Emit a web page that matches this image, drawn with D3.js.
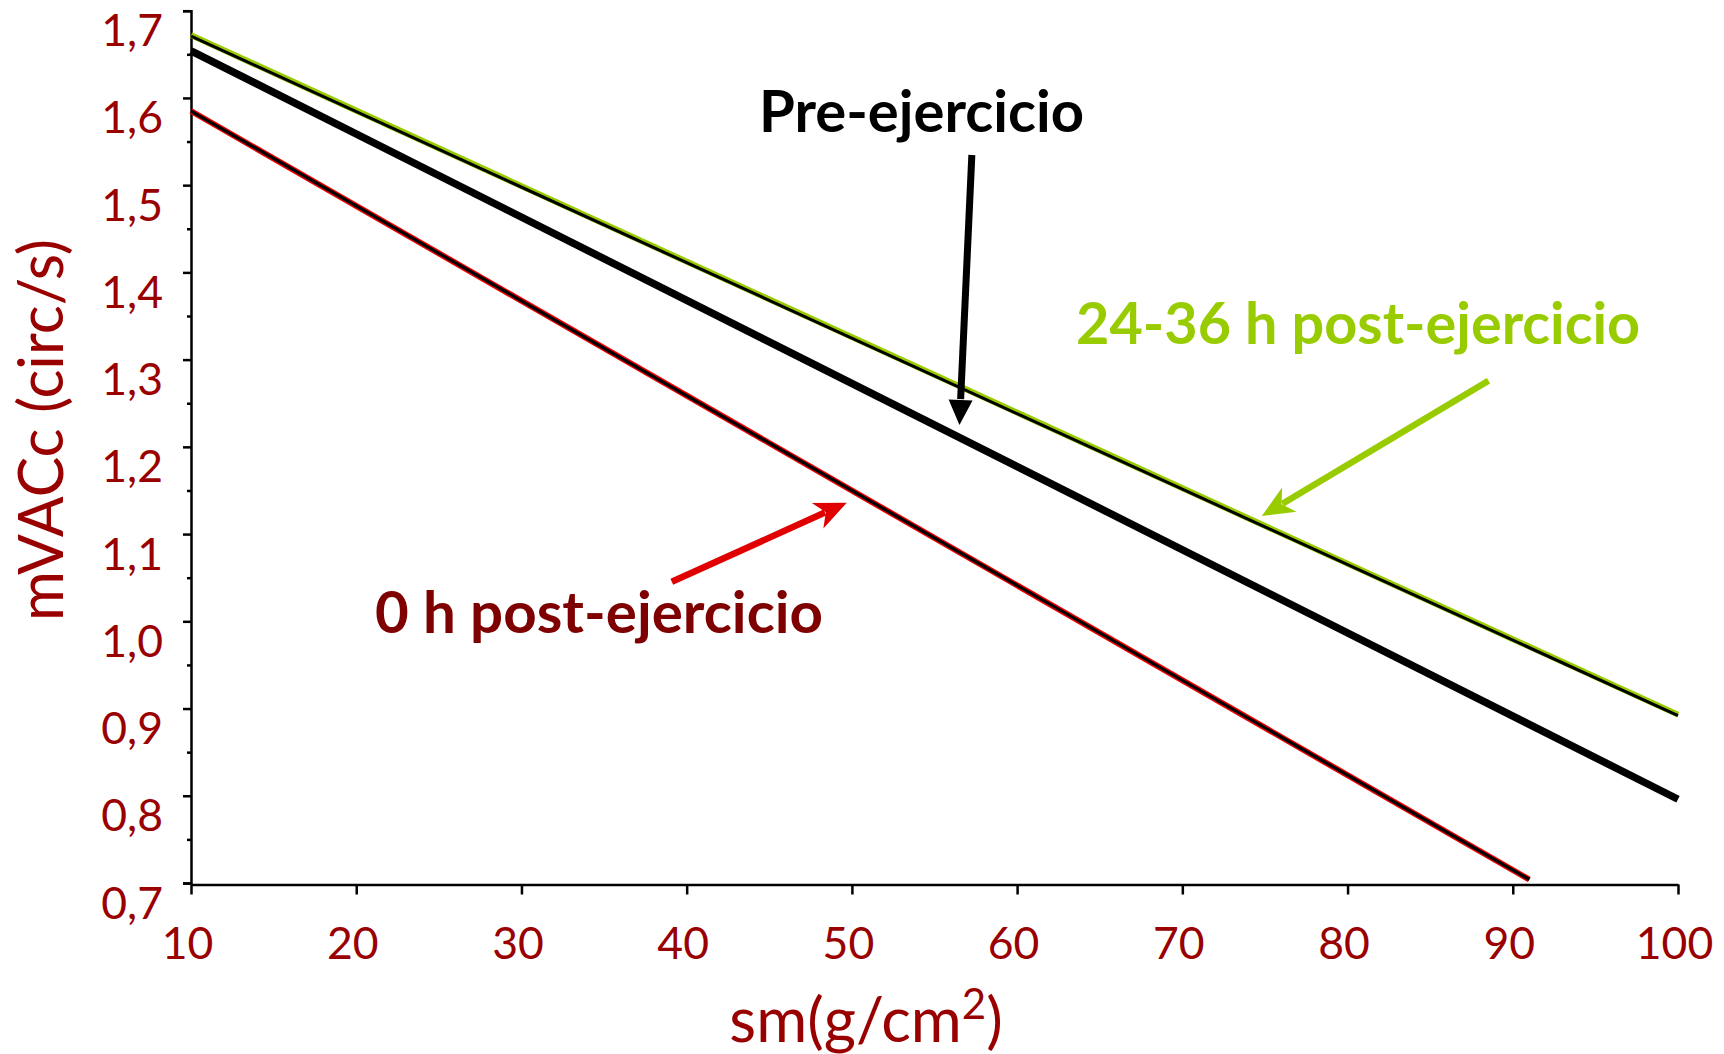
<!DOCTYPE html>
<html>
<head>
<meta charset="utf-8">
<script src="https://cdn.jsdelivr.net/npm/d3@7"></script>
<style>
  html, body { margin: 0; padding: 0; background: #ffffff; }
  svg { display: block; }
  text { font-family: Lato, "Open Sans", sans-serif; }
</style>
</head>
<body>
<svg id="chart" width="1724" height="1054"></svg>
<script>
// Regression lines of mVACc against sm at three moments
const smPre = [10, 100];
const mvaccPre = [1.654, 0.796];

const smPost24 = [10, 100];
const mvaccPost24 = [1.672, 0.893];

const smPost0 = [10, 91];
const mvaccPost0 = [1.585, 0.704];

const xTicks = [10, 20, 30, 40, 50, 60, 70, 80, 90, 100];
const yTicks = [0.7, 0.8, 0.9, 1.0, 1.1, 1.2, 1.3, 1.4, 1.5, 1.6, 1.7];
const yMinorTicks = [0.75, 0.85, 0.95, 1.05, 1.15, 1.25, 1.35, 1.45, 1.55, 1.65];

const labelPre = "Pre-ejercicio";
const labelPost24 = "24-36 h post-ejercicio";
const labelPost0 = "0 h post-ejercicio";

const svg = d3.select("#chart");
const tickColor = "#990000";

const x = d3.scaleLinear().domain([10, 100]).range([191, 1678]);
const y = d3.scaleLinear().domain([0.7, 1.7]).range([883, 10.7]);

const fmt = v => d3.format(".1f")(v).replace(".", ",");

// Y axis: major ticks with labels, minor ticks without
const yAxisG = svg.append("g").attr("transform", `translate(${x(10)},0)`);
yAxisG.call(d3.axisLeft(y).tickValues(yTicks).tickSize(8).tickFormat(fmt));
yAxisG.select(".domain").attr("stroke", "#000").attr("stroke-width", 2.5);
yAxisG.selectAll(".tick line").attr("stroke", "#000").attr("stroke-width", 2.5);
yAxisG.selectAll(".tick text")
  .attr("x", -28).attr("dy", null).attr("y", 35)
  .attr("fill", tickColor)
  .style("font-size", "44.5px")
  .style("font-family", "Lato, sans-serif");

const yMinorG = svg.append("g").attr("transform", `translate(${x(10)},0)`);
yMinorG.call(d3.axisLeft(y).tickValues(yMinorTicks).tickSize(4).tickFormat(""));
yMinorG.select(".domain").remove();
yMinorG.selectAll(".tick line").attr("stroke", "#000").attr("stroke-width", 2.5);

// X axis
const xAxisG = svg.append("g").attr("transform", `translate(0,${y(0.7) + 1.5})`);
xAxisG.call(d3.axisBottom(x).tickValues(xTicks).tickSize(10).tickSizeOuter(0).tickFormat(d3.format("d")));
xAxisG.select(".domain").attr("stroke", "#000").attr("stroke-width", 2.5);
xAxisG.selectAll(".tick line").attr("stroke", "#000").attr("stroke-width", 2.5);
xAxisG.selectAll(".tick text")
  .attr("x", -4).attr("dy", null).attr("y", 74)
  .attr("fill", tickColor)
  .style("font-size", "44.5px")
  .style("font-family", "Lato, sans-serif");

// Axis titles
svg.append("text")
  .attr("transform", `translate(63,430) rotate(-90)`)
  .attr("text-anchor", "middle")
  .attr("fill", tickColor)
  .attr("textLength", 382)
  .attr("lengthAdjust", "spacingAndGlyphs")
  .style("font-size", "61px")
  .text("mVACc (circ/s)");

const xTitle = svg.append("text")
  .attr("x", 866).attr("y", 1042)
  .attr("text-anchor", "middle")
  .attr("fill", tickColor)
  .style("font-size", "62px");
xTitle.append("tspan").text("sm(g/cm");
xTitle.append("tspan").attr("dy", -23).style("font-size", "42px").text("2");
xTitle.append("tspan").attr("dy", 23).text(")");

// Lines
const line = d3.line().x(d => x(d[0])).y(d => y(d[1]));
const pts = (xs, ys) => xs.map((v, i) => [v, ys[i]]);

const plot = svg.append("g");

// 24-36 h: green outline with dark core
plot.append("path").datum(pts(smPost24, mvaccPost24))
  .attr("d", line).attr("fill", "none")
  .attr("stroke", "#99cc00").attr("stroke-width", 6);
plot.append("path").datum(pts(smPost24, mvaccPost24))
  .attr("d", line).attr("fill", "none")
  .attr("transform", "translate(0,1)")
  .attr("stroke", "#000").attr("stroke-width", 3);

// Pre: thick black
plot.append("path").datum(pts(smPre, mvaccPre))
  .attr("d", line).attr("fill", "none")
  .attr("stroke", "#000").attr("stroke-width", 7.5);

// 0 h: red outline with dark core
plot.append("path").datum(pts(smPost0, mvaccPost0))
  .attr("d", line).attr("fill", "none")
  .attr("stroke", "#ee0000").attr("stroke-width", 6);
plot.append("path").datum(pts(smPost0, mvaccPost0))
  .attr("d", line).attr("fill", "none")
  .attr("stroke", "#000").attr("stroke-width", 3.2);

// Annotation arrows (in data units: sm, mVACc)
function arrow(from, to, color, width, headLen, headHalf, notch) {
  const x0 = x(from[0]), y0 = y(from[1]);
  const x1 = x(to[0]), y1 = y(to[1]);
  const dx = x1 - x0, dy = y1 - y0;
  const L = Math.hypot(dx, dy);
  const ux = dx / L, uy = dy / L;
  const px = -uy, py = ux;
  const bx = x1 - ux * headLen, by = y1 - uy * headLen;
  const nx = bx + ux * notch, ny = by + uy * notch;
  svg.append("line")
    .attr("x1", x0).attr("y1", y0)
    .attr("x2", nx - ux * 1).attr("y2", ny - uy * 1)
    .attr("stroke", color).attr("stroke-width", width);
  svg.append("path")
    .attr("d", `M${x1},${y1} L${bx + px * headHalf},${by + py * headHalf} L${nx},${ny} L${bx - px * headHalf},${by - py * headHalf} Z`)
    .attr("fill", color);
}

arrow([57.26, 1.5346], [56.51, 1.225], "#000", 7, 25, 12, 0);
arrow([88.53, 1.2758], [74.81, 1.1207], "#99cc00", 6.5, 32, 14, 9);
arrow([39.10, 1.0454], [49.69, 1.136], "#e00000", 6.5, 32, 14, 9);

// Annotation labels
function label(txt, at, color, len) {
  svg.append("text")
    .attr("x", x(at[0])).attr("y", y(at[1]))
    .attr("fill", color)
    .attr("textLength", len)
    .attr("lengthAdjust", "spacingAndGlyphs")
    .style("font-size", "57px")
    .style("font-weight", "bold")
    .text(txt);
}
label(labelPre, [44.38, 1.5613], "#000", 325);
label(labelPost24, [63.57, 1.3179], "#99cc00", 564);
label(labelPost0, [21.14, 0.987], "#7f0000", 448);
</script>
</body>
</html>
